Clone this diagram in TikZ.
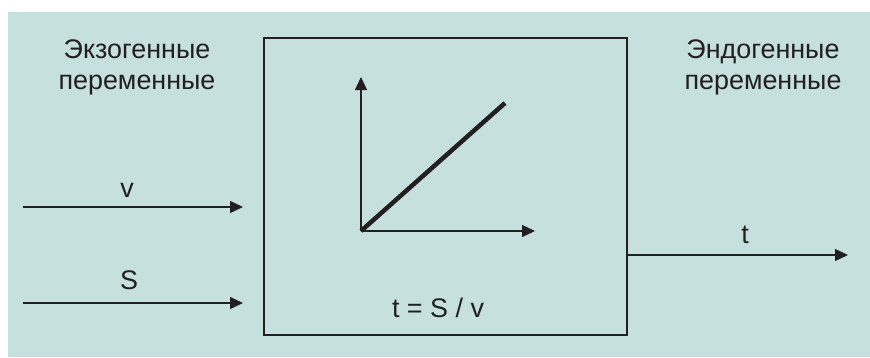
\documentclass[tikz,border=0pt]{standalone}
\usepackage{fontspec}
\setmainfont{Liberation Sans}
\usetikzlibrary{arrows.meta}
\definecolor{panel}{RGB}{197,224,221}
\definecolor{ink}{RGB}{35,31,32}

\begin{document}
\begin{tikzpicture}[x=1bp, y=-1bp, line width=1.3bp, color=ink,
  flow/.style={-{Triangle[length=13bp,width=12bp]}},
  lbl/.style={font=\fontsize{27}{31}\selectfont, inner sep=0pt, align=center}]

\useasboundingbox (0,0) rectangle (870,357);
\fill[panel] (8,12) rectangle (870,357);

\node[lbl] (exo) at (137,67) {Экзогенные\\переменные};
\node[lbl] (endo) at (763,67) {Эндогенные\\переменные};

\node[draw, minimum width=363bp, minimum height=297bp, inner sep=0pt] (sys) at (445.5,186.5) {};
\node[lbl] (law) at (438,307.5) {t = S / v};

\coordinate (o) at (361,231);
\coordinate (ytip) at (361,77);
\coordinate (xtip) at (535,231);
\coordinate (lend) at (505,103);
\draw[flow] (o) -- (ytip);
\draw[flow] (o) -- (xtip);
\draw[line width=4.5bp] (o) -- (lend);

\coordinate (vin) at (23,207);
\coordinate (vout) at (243,207);
\coordinate (sin) at (23,303);
\coordinate (sout) at (243,303);
\coordinate (tout) at (848,255);
\draw[flow] (vin) -- (vout);
\draw[flow] (sin) -- (sout);
\draw[flow] (sys.east |- tout) -- (tout);

\node[lbl] (vlab) at (127,190) {v};
\node[lbl] (slab) at (129,280.5) {S};
\node[lbl] (tlab) at (745,234.5) {t};

\end{tikzpicture}
\end{document}
